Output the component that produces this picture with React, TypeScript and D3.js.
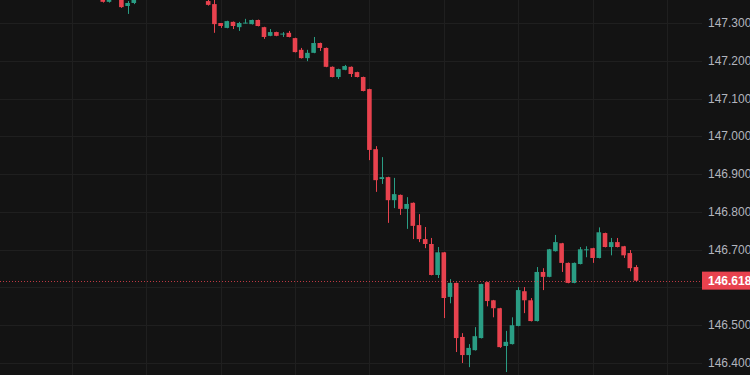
import React from "react";
import * as d3 from "d3";

// OHLC per candle (index 0 = leftmost visible candle position)
const opens = [
  147.370, 147.356, 147.368, 147.372, 147.345, 147.353, 147.366, 147.377, 147.388, 147.384,
  147.392, 147.400, 147.394, 147.386, 147.380, 147.388, 147.378, 147.358, 147.350, 147.300,
  147.287, 147.303, 147.289, 147.300, 147.297, 147.308, 147.289, 147.266, 147.276, 147.271,
  147.274, 147.260, 147.229, 147.207, 147.221, 147.247, 147.234, 147.184, 147.157, 147.176,
  147.184, 147.170, 147.157, 147.125, 146.966, 146.887, 146.892, 146.831, 146.845, 146.808,
  146.824, 146.765, 146.728, 146.715, 146.633, 146.693, 146.575, 146.612, 146.469, 146.421,
  146.434, 146.466, 146.614, 146.566, 146.545, 146.445, 146.450, 146.498, 146.590, 146.566,
  146.511, 146.641, 146.628, 146.696, 146.717, 146.665, 146.612, 146.662, 146.700, 146.704,
  146.678, 146.744, 146.707, 146.720, 146.709, 146.691, 146.654,
];
const highs = [
  147.378, 147.374, 147.382, 147.376, 147.358, 147.372, 147.380, 147.392, 147.398, 147.396,
  147.405, 147.410, 147.402, 147.394, 147.392, 147.396, 147.386, 147.370, 147.372, 147.300,
  147.306, 147.304, 147.303, 147.311, 147.309, 147.309, 147.290, 147.284, 147.277, 147.276,
  147.279, 147.261, 147.234, 147.229, 147.263, 147.248, 147.235, 147.185, 147.179, 147.189,
  147.185, 147.171, 147.158, 147.126, 146.974, 146.945, 146.893, 146.890, 146.846, 146.839,
  146.825, 146.794, 146.760, 146.731, 146.707, 146.694, 146.622, 146.613, 146.479, 146.450,
  146.495, 146.610, 146.615, 146.567, 146.546, 146.485, 146.521, 146.601, 146.601, 146.572,
  146.654, 146.651, 146.702, 146.739, 146.718, 146.666, 146.666, 146.707, 146.709, 146.705,
  146.759, 146.745, 146.731, 146.731, 146.710, 146.699, 146.659,
];
const lows = [
  147.354, 147.354, 147.364, 147.340, 147.324, 147.350, 147.363, 147.372, 147.380, 147.376,
  147.386, 147.390, 147.382, 147.374, 147.372, 147.376, 147.366, 147.346, 147.274, 147.287,
  147.286, 147.284, 147.279, 147.299, 147.296, 147.291, 147.258, 147.265, 147.265, 147.263,
  147.262, 147.222, 147.206, 147.199, 147.220, 147.226, 147.183, 147.156, 147.152, 147.175,
  147.157, 147.156, 147.119, 146.937, 146.853, 146.874, 146.771, 146.810, 146.792, 146.755,
  146.728, 146.720, 146.704, 146.632, 146.625, 146.519, 146.558, 146.429, 146.400, 146.389,
  146.433, 146.465, 146.550, 146.521, 146.440, 146.376, 146.449, 146.497, 146.532, 146.510,
  146.510, 146.593, 146.627, 146.695, 146.641, 146.611, 146.611, 146.661, 146.680, 146.665,
  146.677, 146.706, 146.685, 146.706, 146.678, 146.643, 146.617,
];
const closes = [
  147.356, 147.368, 147.372, 147.342, 147.353, 147.366, 147.377, 147.388, 147.384, 147.392,
  147.400, 147.394, 147.386, 147.380, 147.388, 147.378, 147.370, 147.348, 147.297, 147.292,
  147.305, 147.292, 147.300, 147.301, 147.308, 147.292, 147.263, 147.276, 147.266, 147.272,
  147.263, 147.223, 147.207, 147.221, 147.247, 147.234, 147.184, 147.157, 147.178, 147.186,
  147.165, 147.157, 147.120, 146.964, 146.884, 146.892, 146.831, 146.847, 146.808, 146.821,
  146.763, 146.728, 146.715, 146.633, 146.693, 146.572, 146.612, 146.466, 146.421, 146.440,
  146.471, 146.609, 146.564, 146.545, 146.442, 146.456, 146.500, 146.593, 146.566, 146.511,
  146.641, 146.628, 146.701, 146.720, 146.665, 146.612, 146.665, 146.701, 146.701, 146.678,
  146.746, 146.707, 146.720, 146.707, 146.685, 146.651, 146.618,
];

const priceTicks = [147.3, 147.2, 147.1, 147.0, 146.9, 146.8, 146.7, 146.6, 146.5, 146.4];
const lastPrice = 146.618;
const timeGridIndices = [-5, 7, 19, 31, 43, 55, 67, 79, 91];

const UP = "#2a9d84";
const DOWN = "#e8424e";
const BG = "#131313";
const GRID = "#1f1f1f";
const TEXT = "#b2b5be";

export default function App() {
  const W = 750;
  const H = 375;
  const plotRight = 702;
  const x = d3.scaleLinear().domain([0, 86]).range([102.8, 636]);
  const y = d3.scaleLinear().domain([146.4, 147.3]).range([363, 23]);
  const bodyW = 4.6;
  const fmt = d3.format(".3f");

  const candles = opens.map((o, i) => ({
    i,
    o,
    h: highs[i],
    l: lows[i],
    c: closes[i],
  }));

  const ly = y(lastPrice);

  return (
    <svg
      width={W}
      height={H}
      style={{ position: "absolute", left: 0, top: 0, display: "block" }}
      fontFamily="'Liberation Sans', Arial, sans-serif"
    >
      <defs>
        <clipPath id="plot">
          <rect x={0} y={0} width={plotRight} height={H} />
        </clipPath>
      </defs>
      <rect x={0} y={0} width={W} height={H} fill={BG} />
      <g>
        {priceTicks.map((p) => (
          <line
            key={p}
            x1={0}
            x2={plotRight}
            y1={Math.round(y(p)) + 0.5}
            y2={Math.round(y(p)) + 0.5}
            stroke={GRID}
            strokeWidth={1}
          />
        ))}
        {timeGridIndices.map((t) => (
          <line
            key={t}
            x1={Math.round(x(t)) + 0.5}
            x2={Math.round(x(t)) + 0.5}
            y1={0}
            y2={H}
            stroke={GRID}
            strokeWidth={1}
          />
        ))}
      </g>
      <g clipPath="url(#plot)">
        {candles.map((d) => {
          const up = d.c >= d.o;
          const col = up ? UP : DOWN;
          const cx = x(d.i);
          const top = y(Math.max(d.o, d.c));
          const bot = y(Math.min(d.o, d.c));
          return (
            <g key={d.i}>
              <line
                x1={Math.round(cx) + 0.5}
                x2={Math.round(cx) + 0.5}
                y1={y(d.h)}
                y2={y(d.l)}
                stroke={col}
                strokeWidth={1}
              />
              <rect
                x={cx - bodyW / 2}
                y={top}
                width={bodyW}
                height={Math.max(1, bot - top)}
                fill={col}
              />
            </g>
          );
        })}
      </g>
      <line
        x1={0}
        x2={plotRight}
        y1={Math.round(ly) + 0.5}
        y2={Math.round(ly) + 0.5}
        stroke={DOWN}
        strokeWidth={1}
        strokeDasharray="1,2"
        opacity={0.8}
      />
      <g fontSize={12} fill={TEXT}>
        {priceTicks
          .filter((p) => Math.abs(y(p) - ly) > 10)
          .map((p) => (
            <text key={p} x={708} y={y(p)} dominantBaseline="central">
              {fmt(p)}
            </text>
          ))}
      </g>
      <rect x={702} y={ly - 9} width={60} height={18} fill={DOWN} />
      <text
        x={708}
        y={ly}
        dominantBaseline="central"
        fontSize={12}
        fontWeight={600}
        fill="#ffffff"
      >
        {fmt(lastPrice)}
      </text>
    </svg>
  );
}
